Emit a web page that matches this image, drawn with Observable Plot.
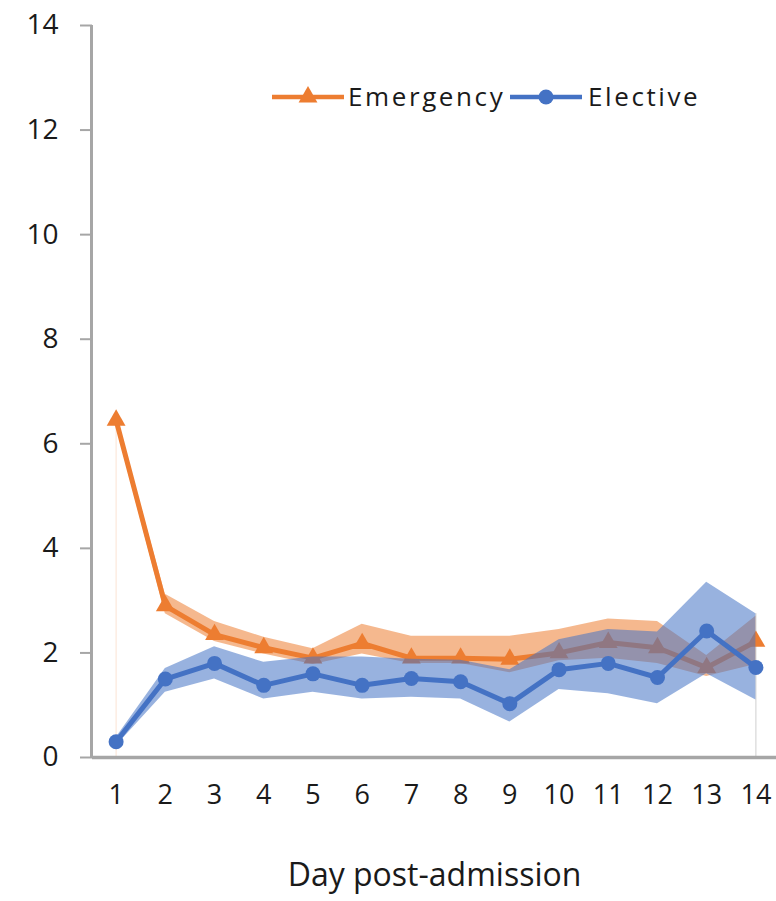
<!DOCTYPE html>
<html><head><meta charset="utf-8">
<script src="https://cdn.jsdelivr.net/npm/d3@7"></script>
<script src="https://cdn.jsdelivr.net/npm/@observablehq/plot@0.6"></script>
<style>
body{margin:0;background:#fff;}
#wrap{position:relative;width:776px;height:901px;font-family:"Open Sans",sans-serif;}
.lg{position:absolute;font-size:26px;color:#1a1a1a;letter-spacing:2.6px;line-height:1;}
.sw{position:absolute;}
</style></head><body><div id="wrap"></div>
<script>
const days = [1,2,3,4,5,6,7,8,9,10,11,12,13,14];
const emergency     = [6.45, 2.90, 2.35, 2.10, 1.90, 2.18, 1.90, 1.90, 1.88, 2.00, 2.20, 2.10, 1.72, 2.22];
const emergencyLow  = [6.35, 2.75, 2.22, 1.98, 1.78, 1.98, 1.80, 1.80, 1.62, 1.85, 1.90, 1.80, 1.55, 1.78];
const emergencyHigh = [6.55, 3.12, 2.60, 2.30, 2.08, 2.55, 2.32, 2.32, 2.32, 2.45, 2.65, 2.60, 1.95, 2.70];
const elective      = [0.30, 1.50, 1.80, 1.38, 1.60, 1.38, 1.51, 1.45, 1.03, 1.68, 1.80, 1.53, 2.42, 1.72];
const electiveLow   = [0.22, 1.25, 1.50, 1.12, 1.25, 1.12, 1.15, 1.12, 0.68, 1.30, 1.22, 1.03, 1.60, 1.10];
const electiveHigh  = [0.38, 1.70, 2.12, 1.82, 1.92, 1.92, 1.88, 1.86, 1.68, 2.25, 2.45, 2.40, 3.35, 2.75];
const yTicks = [0, 2, 4, 6, 8, 10, 12, 14];
const seriesNames = ["Emergency", "Elective"];
const xTitle = "Day post-admission";

const ORANGE = "#ED7D31", BLUE = "#4472C4", AXIS = "#a6a6a6", INK = "#1a1a1a";

const rows = days.map((d, i) => ({
  day: d,
  emergency: emergency[i], emergencyLow: emergencyLow[i], emergencyHigh: emergencyHigh[i],
  elective: elective[i], electiveLow: electiveLow[i], electiveHigh: electiveHigh[i]
}));
const first = rows[0], last = rows[rows.length - 1];

const chart = Plot.plot({
  width: 776, height: 901,
  marginLeft: 92, marginRight: 0, marginTop: 25, marginBottom: 144,
  style: {fontFamily: "'Open Sans', sans-serif", color: INK, background: "white", overflow: "visible"},
  x: {domain: [0.5, 14.5], range: [91, 780], label: null},
  y: {domain: [0, 14], label: null},
  marks: [
    Plot.ruleX([first], {x: "day", y1: 0, y2: "emergencyHigh", stroke: "#fbe3d3", strokeWidth: 1}),
    Plot.ruleX([last], {x: "day", y1: 0, y2: "electiveHigh", stroke: "#cfcfcf", strokeWidth: 1}),
    Plot.areaY(rows, {x: "day", y1: "emergencyLow", y2: "emergencyHigh", fill: ORANGE, fillOpacity: 0.55}),
    Plot.lineY(rows, {x: "day", y: "emergency", stroke: ORANGE, strokeWidth: 5}),
    Plot.dot(rows, {x: "day", y: "emergency", symbol: "triangle", r: 7, fill: ORANGE}),
    Plot.areaY(rows, {x: "day", y1: "electiveLow", y2: "electiveHigh", fill: BLUE, fillOpacity: 0.55}),
    Plot.lineY(rows, {x: "day", y: "elective", stroke: BLUE, strokeWidth: 5}),
    Plot.dot(rows, {x: "day", y: "elective", symbol: "circle", r: 7.5, fill: BLUE}),
    Plot.ruleX([0.5], {stroke: AXIS, strokeWidth: 3}),
    Plot.ruleY([0], {stroke: AXIS, strokeWidth: 3.5}),
    Plot.axisY(yTicks, {anchor: "left", tickSize: 12, tickPadding: 22, stroke: AXIS, strokeWidth: 2,
      fill: INK, fontSize: 28, label: null, tickFormat: d3.format("d")}),
    Plot.axisX(days, {anchor: "bottom", tickSize: 0, tickPadding: 27, fill: INK, fontSize: 27, label: null,
      tickFormat: d3.format("d")}),
    Plot.text([xTitle], {frameAnchor: "bottom", dy: 128, fontSize: 32, fill: INK})
  ]
});

const wrap = document.getElementById("wrap");
wrap.appendChild(chart);

// legend
function swatch(left, color, symbol, size) {
  const s = d3.create("svg").attr("class", "sw").attr("width", 72).attr("height", 24)
    .style("left", left + "px").style("top", "85px");
  s.append("line").attr("x1", 0).attr("x2", 72).attr("y1", 12).attr("y2", 12)
    .attr("stroke", color).attr("stroke-width", 4.5);
  s.append("path").attr("transform", "translate(36,12)")
    .attr("d", d3.symbol(symbol, size)()).attr("fill", color);
  wrap.appendChild(s.node());
}
function label(left, text) {
  const d = document.createElement("div");
  d.className = "lg"; d.textContent = text;
  d.style.left = left + "px"; d.style.top = "83px";
  wrap.appendChild(d);
}
swatch(272, ORANGE, d3.symbolTriangle, 154);
label(348, seriesNames[0]);
swatch(510, BLUE, d3.symbolCircle, 177);
label(588, seriesNames[1]);
</script>
</body></html>
